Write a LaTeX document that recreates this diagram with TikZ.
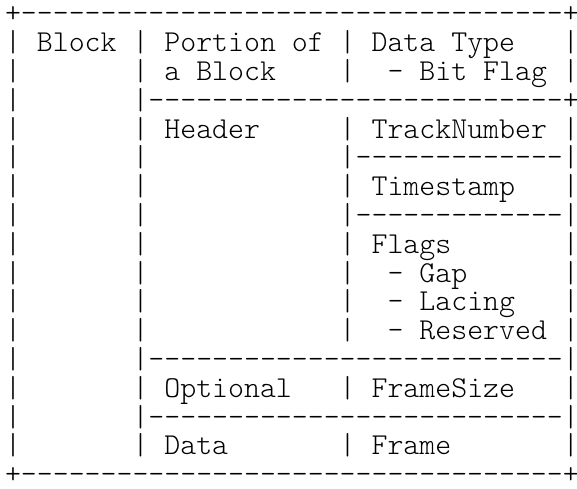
\documentclass[tikz,border=0pt]{standalone}
\usepackage{fontspec}
\setmonofont{Latin Modern Mono Light}

\begin{document}
\begin{tikzpicture}[
  x=7.97pt, y=-14.4pt,
  ascii/.style={anchor=base west, inner sep=0pt, outer sep=0pt, text=black,
    font=\ttfamily\fontsize{15.18}{14.4}\selectfont}
]
  \useasboundingbox (-0.314,-0.796) rectangle (35.885,16.182);
  % Borders top / bottom
  \node[ascii] (top) at (0,0) {+----------------------------------+};
  \node[ascii] (bottom) at (0,16) {+----------------------------------+};
  % Vertical bars
  \foreach \r in {1,...,15} {
    \node[ascii] (barA\r) at (0,\r) {|};
    \node[ascii] (barB\r) at (8,\r) {|};
  }
  \foreach \r in {1,2,4,5,...,11,13,15} \node[ascii] (barC\r) at (21,\r) {|};
  \foreach \r in {1,2,4,5,...,15} \node[ascii] (barD\r) at (35,\r) {|};
  % Separators
  \node[ascii] (sep3) at (9,3) {--------------------------+};
  \node[ascii] (sep5) at (22,5) {-------------};
  \node[ascii] (sep7) at (22,7) {-------------};
  \node[ascii] (sep12) at (9,12) {--------------------------};
  \node[ascii] (sep14) at (9,14) {--------------------------};
  % Column heads
  \node[ascii] (block) at (2,1) {Block};
  \node[ascii] (portion) at (10,1) {Portion of};
  \node[ascii] (portion2) at (10,2) {a Block};
  \node[ascii] (dtype) at (23,1) {Data Type};
  \node[ascii] (bitflag) at (24,2) {- Bit Flag};
  % Header
  \node[ascii] (header) at (10,4) {Header};
  \node[ascii] (track) at (23,4) {TrackNumber};
  \node[ascii] (tstamp) at (23,6) {Timestamp};
  \node[ascii] (flags) at (23,8) {Flags};
  \node[ascii] (gap) at (24,9) {- Gap};
  \node[ascii] (lacing) at (24,10) {- Lacing};
  \node[ascii] (reserved) at (24,11) {- Reserved};
  % Optional / Data
  \node[ascii] (optional) at (10,13) {Optional};
  \node[ascii] (fsize) at (23,13) {FrameSize};
  \node[ascii] (data) at (10,15) {Data};
  \node[ascii] (frame) at (23,15) {Frame};
\end{tikzpicture}
\end{document}
